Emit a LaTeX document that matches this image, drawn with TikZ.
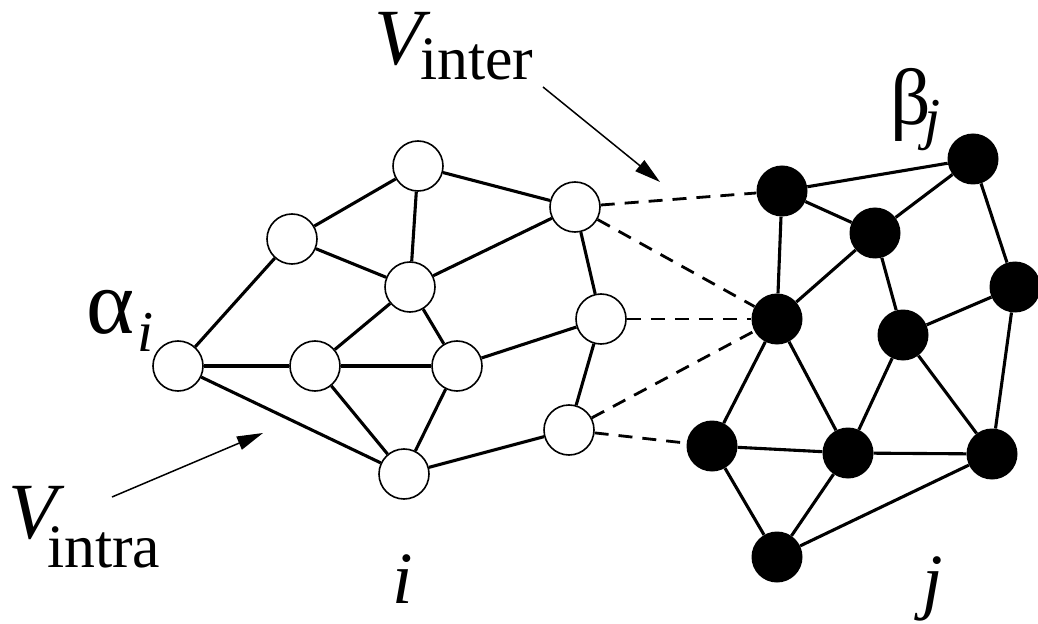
\documentclass[tikz,border=0pt]{standalone}
\usepackage{fontspec}
\setmainfont{Liberation Serif}
\usetikzlibrary{arrows.meta}
\begin{document}
\begin{tikzpicture}[x=1bp,y=-1bp,
  wnode/.style={circle,draw=black,fill=white,line width=1.6bp,minimum size=50bp,inner sep=0pt},
  bnode/.style={circle,fill=black,minimum size=51bp,inner sep=0pt},
  edge/.style={line width=3.1bp},
  dedge/.style={line width=2.8bp,dash pattern=on 14bp off 10bp},
  arr/.style={line width=1.5bp,-{Triangle[length=26bp,width=14bp]}},
  lab/.style={inner sep=0pt,outer sep=0pt}]
\useasboundingbox (0,0) rectangle (1038,624);
% left graph
\node[wnode] (A) at (178,366) {};
\node[wnode] (B) at (292,239) {};
\node[wnode] (C) at (418,166) {};
\node[wnode] (D) at (575,207) {};
\node[wnode] (E) at (410,287) {};
\node[wnode] (F) at (315,366) {};
\node[wnode] (G) at (457,366) {};
\node[wnode] (H) at (601,319) {};
\node[wnode] (I) at (569,430) {};
\node[wnode] (J) at (404,474) {};
% right graph
\node[bnode] (K) at (782,191) {};
\node[bnode] (L) at (973,159) {};
\node[bnode] (M) at (875,233) {};
\node[bnode] (N) at (1015,287) {};
\node[bnode] (O) at (777,319) {};
\node[bnode] (P) at (903,335) {};
\node[bnode] (Q) at (712,446) {};
\node[bnode] (R) at (848,453) {};
\node[bnode] (S) at (992,454) {};
\node[bnode] (T) at (777,557) {};
% left edges
\foreach \u/\v in {B/C,C/D,C/E,B/E,E/D,A/B,A/F,F/G,E/F,E/G,G/H,D/H,H/I,A/J,F/J,G/J,J/I}
  \draw[edge] (\u) -- (\v);
% right edges
\foreach \u/\v in {K/L,K/M,K/O,M/L,M/O,M/P,L/N,N/P,N/S,O/Q,O/R,P/R,P/S,Q/R,R/S,Q/T,R/T,T/S}
  \draw[edge] (\u) -- (\v);
% inter edges
\foreach \u/\v in {D/K,D/O,H/O,I/O,I/Q}
  \draw[dedge] (\u) -- (\v);
% labels
\node[lab,anchor=base west] (Vi) at (374,65) {\fontsize{80}{80}\selectfont\itshape V};
\node[lab,anchor=base west] (inter) at (420,80) {\fontsize{62}{62}\selectfont inter};
\node[lab,anchor=base west] (Va) at (8,538) {\fontsize{80}{80}\selectfont\itshape V};
\node[lab,anchor=base west] (intra) at (47,567) {\fontsize{62}{62}\selectfont intra};
\node[lab,anchor=base west] (alpha) at (86,333) {\fontsize{92}{92}\selectfont α};
\node[lab,anchor=base west] (alphai) at (137,351) {\fontsize{58}{58}\selectfont\itshape i};
\node[lab,anchor=base west] (beta) at (890,125) {\fontsize{80}{80}\selectfont β};
\node[lab,anchor=base west] (betaj) at (924,139) {\fontsize{58}{58}\selectfont\itshape j};
\node[lab,anchor=base west] (ilab) at (392,603) {\fontsize{74}{74}\selectfont\itshape i};
\node[lab,anchor=base west] (jlab) at (922,605) {\fontsize{74}{74}\selectfont\itshape j};
% arrows
\coordinate (s1) at (543,87);
\coordinate (e1) at (660,182);
\draw[arr] (s1) -- (e1);
\coordinate (s2) at (112,497);
\coordinate (e2) at (263,433);
\draw[arr] (s2) -- (e2);
\end{tikzpicture}
\end{document}
